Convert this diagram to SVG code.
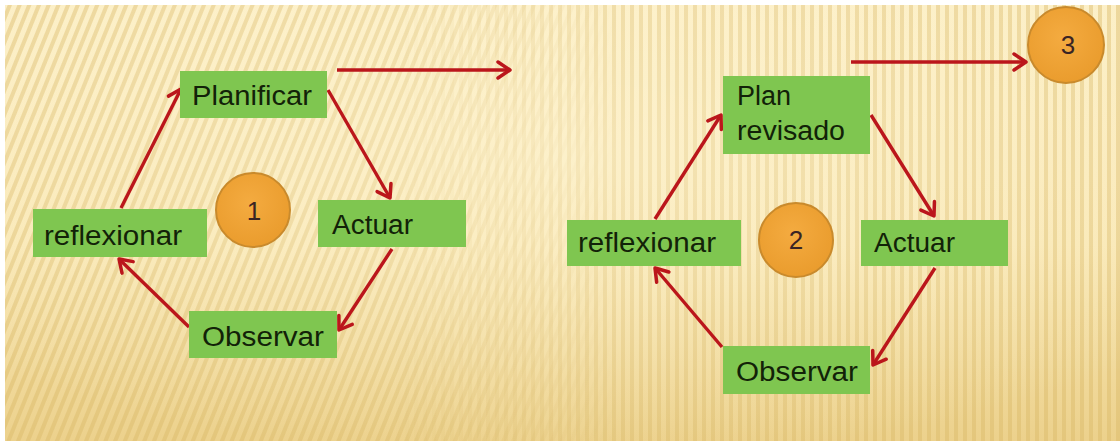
<svg xmlns="http://www.w3.org/2000/svg" width="1120" height="444" viewBox="0 0 1120 444">
<style>
.box{fill:#7fc650;}
.lbl{font-family:"Liberation Sans",Arial,sans-serif;font-size:27px;fill:#122208;}
.circ{fill:url(#og);stroke:#c98a2c;stroke-width:2;}
.num{font-family:"Liberation Sans",Arial,sans-serif;font-size:26px;fill:#3a2424;text-anchor:middle;}
.con{fill:none;stroke:#bb161b;stroke-width:3.4;marker-end:url(#ah);}
</style>
<defs>
<marker id="ah" markerUnits="userSpaceOnUse" markerWidth="20" markerHeight="20" viewBox="0 0 20 20" refX="17" refY="10" orient="auto">
<path d="M5,2 L17,10 L5,18" fill="none" stroke="#bb161b" stroke-width="3.5" stroke-linecap="round" stroke-linejoin="round"/>
</marker>
<radialGradient id="og" cx="0.45" cy="0.4" r="0.65">
<stop offset="0" stop-color="#f4ab40"/>
<stop offset="1" stop-color="#e99b2c"/>
</radialGradient>
<linearGradient id="bgv" x1="0" y1="0" x2="0" y2="1">
<stop offset="0" stop-color="#fcefc6"/>
<stop offset="0.55" stop-color="#f9e8b6"/>
<stop offset="1" stop-color="#ecd18c"/>
</linearGradient>
<radialGradient id="bgl" cx="0.5" cy="0.35" r="0.7">
<stop offset="0" stop-color="#fff6d8" stop-opacity="0.5"/>
<stop offset="1" stop-color="#fff6d8" stop-opacity="0"/>
</radialGradient>
<pattern id="stS" width="9" height="40" patternUnits="userSpaceOnUse" patternTransform="rotate(22)">
<rect x="0" y="0" width="4" height="40" fill="#dcbc6c" opacity="0.5"/>
</pattern>
<pattern id="stV" width="9" height="40" patternUnits="userSpaceOnUse">
<rect x="0" y="0" width="4" height="40" fill="#dcbc6c" opacity="0.5"/>
</pattern>
<linearGradient id="fadeL" x1="0" y1="0" x2="1" y2="0">
<stop offset="0" stop-color="#fff"/>
<stop offset="0.35" stop-color="#fff"/>
<stop offset="0.55" stop-color="#000"/>
</linearGradient>
<linearGradient id="fadeR" x1="0" y1="0" x2="1" y2="0">
<stop offset="0" stop-color="#000"/>
<stop offset="0.35" stop-color="#000"/>
<stop offset="0.55" stop-color="#fff"/>
</linearGradient>
<mask id="mL"><rect x="0" y="0" width="1120" height="444" fill="url(#fadeL)"/></mask>
<mask id="mR"><rect x="0" y="0" width="1120" height="444" fill="url(#fadeR)"/></mask>
</defs>
<rect x="0" y="0" width="1120" height="444" fill="#ffffff"/>
<g id="background">
<rect x="5" y="5" width="1115" height="436" fill="url(#bgv)"/>
<rect x="5" y="5" width="1115" height="436" fill="url(#stS)" mask="url(#mL)"/>
<rect x="5" y="5" width="1115" height="436" fill="url(#stV)" mask="url(#mR)"/>
<rect x="5" y="5" width="1115" height="436" fill="url(#bgl)"/>
</g>
<g id="connectors">
<line class="con" x1="337" y1="70" x2="510" y2="70"/>
<line class="con" x1="121" y1="208" x2="181" y2="89"/>
<line class="con" x1="328" y1="90" x2="390" y2="198"/>
<line class="con" x1="392" y1="249" x2="339" y2="330"/>
<line class="con" x1="189" y1="327" x2="119" y2="259"/>
<line class="con" x1="851" y1="62" x2="1026" y2="62"/>
<line class="con" x1="655" y1="219" x2="721" y2="115"/>
<line class="con" x1="871" y1="115" x2="934" y2="216"/>
<line class="con" x1="935" y1="268" x2="873" y2="365"/>
<line class="con" x1="722" y1="347" x2="655" y2="268"/>
</g>
<g id="n-planificar"><rect class="box" x="180" y="71" width="147" height="47"/><text class="lbl" x="192" y="105" textLength="120" lengthAdjust="spacingAndGlyphs">Planificar</text></g>
<g id="n-actuar1"><rect class="box" x="318" y="200" width="148" height="47"/><text class="lbl" x="332" y="234" textLength="81" lengthAdjust="spacingAndGlyphs">Actuar</text></g>
<g id="n-observar1"><rect class="box" x="189" y="311" width="148" height="47"/><text class="lbl" x="202" y="346" textLength="122" lengthAdjust="spacingAndGlyphs">Observar</text></g>
<g id="n-reflexionar1"><rect class="box" x="33" y="209" width="174" height="48"/><text class="lbl" x="44" y="245" textLength="138" lengthAdjust="spacingAndGlyphs">reflexionar</text></g>
<g id="n-c1"><circle class="circ" cx="253" cy="210" r="37"/><text class="num" x="254" y="220">1</text></g>
<g id="n-planrev"><rect class="box" x="723" y="76" width="147" height="78"/><text class="lbl" x="737" y="105">Plan</text><text class="lbl" x="737" y="140" textLength="108" lengthAdjust="spacingAndGlyphs">revisado</text></g>
<g id="n-actuar2"><rect class="box" x="861" y="220" width="147" height="46"/><text class="lbl" x="874" y="252" textLength="81" lengthAdjust="spacingAndGlyphs">Actuar</text></g>
<g id="n-observar2"><rect class="box" x="723" y="346" width="147" height="48"/><text class="lbl" x="736" y="381" textLength="122" lengthAdjust="spacingAndGlyphs">Observar</text></g>
<g id="n-reflexionar2"><rect class="box" x="567" y="220" width="174" height="46"/><text class="lbl" x="578" y="252" textLength="138" lengthAdjust="spacingAndGlyphs">reflexionar</text></g>
<g id="n-c2"><circle class="circ" cx="796" cy="240" r="37"/><text class="num" x="796" y="249">2</text></g>
<g id="n-c3"><circle class="circ" cx="1066" cy="45" r="38"/><text class="num" x="1068" y="54">3</text></g>
</svg>
